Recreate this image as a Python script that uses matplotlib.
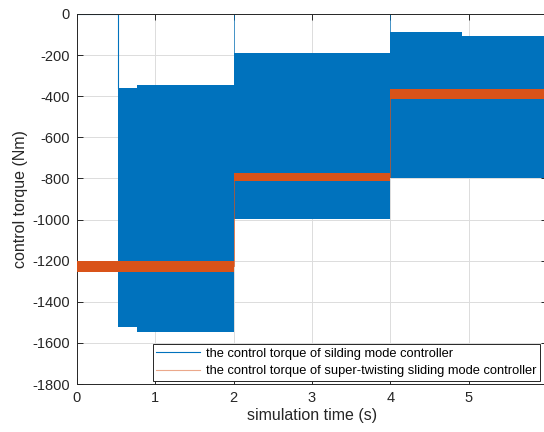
import matplotlib
matplotlib.use("Agg")
import matplotlib.pyplot as plt
from matplotlib.lines import Line2D
import numpy as np

# ---- data ----
smc_time = [0.53, 0.77, 2.0, 4.0, 4.92, 6.0]          # segment breakpoints (s)
smc_upper = [-360, -343, -190, -88, -108]             # upper envelope of chattering (Nm)
smc_lower = [-1522, -1547, -998, -798, -798]          # lower envelope (Nm)
smc_spike_times = [2.0, 4.0]                          # spikes to 0 at load steps
smc_initial = 0                                       # torque before 0.53 s

stsmc_time = [0.0, 2.0, 4.0, 6.0]
stsmc_upper = [-1200, -775, -365]
stsmc_lower = [-1255, -812, -412]

xticks = [0, 1, 2, 3, 4, 5, 6]
yticks = [-1800, -1600, -1400, -1200, -1000, -800, -600, -400, -200, 0]

blue = "#0072BD"
orange = "#D95319"
axcol = "#262626"

plt.rcParams['font.family'] = ['Liberation Sans', 'DejaVu Sans']
plt.rcParams['axes.unicode_minus'] = False

fig = plt.figure(figsize=(5.44, 4.32), dpi=100)
ax = fig.add_axes([0.1415, 0.1111, 0.864, 0.8565])

# sliding mode controller (blue)
t = np.array(smc_time)
up = np.array(smc_upper + [smc_upper[-1]])
lo = np.array(smc_lower + [smc_lower[-1]])
ax.fill_between(t, lo, up, step='post', color=blue, linewidth=0, zorder=2)
ax.plot([0, smc_time[0], smc_time[0]], [smc_initial, smc_initial, smc_upper[0]],
        color=blue, lw=0.8, zorder=2)
for st in smc_spike_times:
    idx = smc_time.index(st)
    ax.plot([st, st], [smc_upper[idx], 0], color=blue, lw=0.6, alpha=0.8, zorder=2)

# super-twisting (orange)
ts = np.array(stsmc_time)
ups = np.array(stsmc_upper + [stsmc_upper[-1]])
los = np.array(stsmc_lower + [stsmc_lower[-1]])
ax.fill_between(ts, los, ups, step='post', color=orange, linewidth=0, zorder=3)
for i in range(1, len(stsmc_time) - 1):
    tt = stsmc_time[i]
    ax.plot([tt, tt], [(stsmc_upper[i-1] + stsmc_lower[i-1]) / 2,
                       (stsmc_upper[i] + stsmc_lower[i]) / 2],
            color=orange, lw=0.6, alpha=0.8, zorder=3)

ax.set_xlim(0, 6)
ax.set_ylim(-1800, 0)
ax.set_xticks(xticks)
ax.set_yticks(yticks)
ax.grid(True, color='#dcdcdc', lw=0.7, zorder=0)
ax.set_axisbelow(True)
ax.tick_params(direction='in', top=True, right=True, labelsize=10.5,
               colors=axcol, length=4, width=0.7, pad=5)
for s in ax.spines.values():
    s.set_color(axcol)
    s.set_linewidth(0.7)

ax.set_xlabel("simulation time (s)", fontsize=11.5, color=axcol, labelpad=2)
ax.set_ylabel("control torque (Nm)", fontsize=11.5, color=axcol, labelpad=3)

handles = [Line2D([], [], color=blue, lw=0.8),
           Line2D([], [], color=orange, lw=0.8, alpha=0.5)]
labels = ["the control torque of silding mode controller",
          "the control torque of super-twisting sliding mode controller"]
leg = ax.legend(handles, labels, loc='lower right', bbox_to_anchor=(0.985, 0.008),
                borderaxespad=0, fontsize=9.3, fancybox=False, framealpha=1,
                edgecolor=axcol, handlelength=3.4, labelspacing=0.4,
                borderpad=0.3, handletextpad=0.4)
leg.get_frame().set_linewidth(0.7)

fig.savefig("out.png", dpi=100)
